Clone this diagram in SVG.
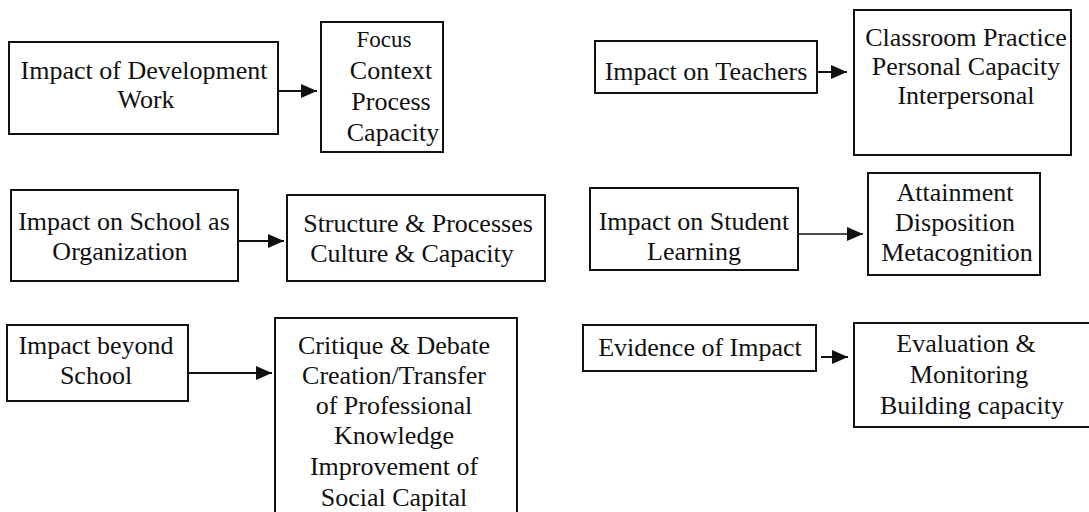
<svg xmlns="http://www.w3.org/2000/svg" width="1089" height="512" viewBox="0 0 1089 512">
  <style>
    .box { fill: #ffffff; stroke: #111111; stroke-width: 2; }
    text { font-family: 'Liberation Serif', 'Times New Roman', serif; font-size: 26px; fill: #111111; text-anchor: middle; }
    .small { font-size: 23px; }
    .conn { stroke: #111111; stroke-width: 2; fill: none; }
    .thin { stroke-width: 1.5; }
  </style>
  <defs>
    <marker id="arrow" viewBox="0 0 16 14" refX="16" refY="7" markerWidth="16" markerHeight="14" markerUnits="userSpaceOnUse" orient="auto">
      <path d="M0,0 L16,7 L0,14 Z" fill="#111111"/>
    </marker>
  </defs>
  <rect width="1089" height="512" fill="#ffffff"/>

  <!-- connectors -->
  <g id="connectors">
    <line class="conn" x1="278" y1="91" x2="317" y2="91" marker-end="url(#arrow)"/>
    <line class="conn" x1="817" y1="72" x2="847" y2="72" marker-end="url(#arrow)"/>
    <line class="conn" x1="238" y1="241" x2="284" y2="241" marker-end="url(#arrow)"/>
    <line class="conn thin" x1="798" y1="234" x2="863" y2="234" marker-end="url(#arrow)"/>
    <line class="conn" x1="188" y1="373" x2="272" y2="373" marker-end="url(#arrow)"/>
    <line class="conn" x1="821" y1="357" x2="848" y2="357" marker-end="url(#arrow)"/>
  </g>

  <!-- row 1, left -->
  <g id="dev-work">
    <rect class="box" x="9" y="42" width="269" height="92"/>
    <text x="144" y="79">Impact of Development</text>
    <text x="146" y="108">Work</text>
  </g>
  <g id="dev-aspects">
    <rect class="box" x="321" y="22" width="122" height="130"/>
    <text class="small" x="384" y="47">Focus</text>
    <text x="391" y="79">Context</text>
    <text x="391" y="110">Process</text>
    <text x="393" y="141">Capacity</text>
  </g>

  <!-- row 1, right -->
  <g id="teachers">
    <rect class="box" x="595" y="41" width="222" height="52"/>
    <text x="706" y="80">Impact on Teachers</text>
  </g>
  <g id="teacher-aspects">
    <rect class="box" x="854" y="10" width="217" height="145"/>
    <text x="966" y="46">Classroom Practice</text>
    <text x="966" y="75">Personal Capacity</text>
    <text x="966" y="104">Interpersonal</text>
  </g>

  <!-- row 2, left -->
  <g id="school-org">
    <rect class="box" x="11" y="190" width="227" height="91"/>
    <text x="124" y="230">Impact on School as</text>
    <text x="120" y="260">Organization</text>
  </g>
  <g id="school-aspects">
    <rect class="box" x="287" y="195" width="258" height="86"/>
    <text x="418" y="232">Structure &amp; Processes</text>
    <text x="412" y="262">Culture &amp; Capacity</text>
  </g>

  <!-- row 2, right -->
  <g id="student-learning">
    <rect class="box" x="590" y="188" width="208" height="82"/>
    <text x="694" y="230">Impact on Student</text>
    <text x="694" y="260">Learning</text>
  </g>
  <g id="student-aspects">
    <rect class="box" x="868" y="173" width="172" height="102"/>
    <text x="955" y="201">Attainment</text>
    <text x="955" y="231">Disposition</text>
    <text x="957" y="261">Metacognition</text>
  </g>

  <!-- row 3, left -->
  <g id="beyond-school">
    <rect class="box" x="7" y="325" width="181" height="76"/>
    <text x="96" y="354">Impact beyond</text>
    <text x="96" y="384">School</text>
  </g>
  <g id="beyond-aspects">
    <rect class="box" x="275" y="318" width="242" height="210"/>
    <text x="394" y="354">Critique &amp; Debate</text>
    <text x="394" y="384">Creation/Transfer</text>
    <text x="394" y="414">of Professional</text>
    <text x="394" y="444">Knowledge</text>
    <text x="394" y="475">Improvement of</text>
    <text x="394" y="506">Social Capital</text>
  </g>

  <!-- row 3, right -->
  <g id="evidence">
    <rect class="box" x="583" y="325" width="233" height="46"/>
    <text x="700" y="356">Evidence of Impact</text>
  </g>
  <g id="evidence-aspects">
    <rect class="box" x="854" y="323" width="245" height="104"/>
    <text x="966" y="352">Evaluation &amp;</text>
    <text x="969" y="383">Monitoring</text>
    <text x="972" y="414">Building capacity</text>
  </g>
</svg>
